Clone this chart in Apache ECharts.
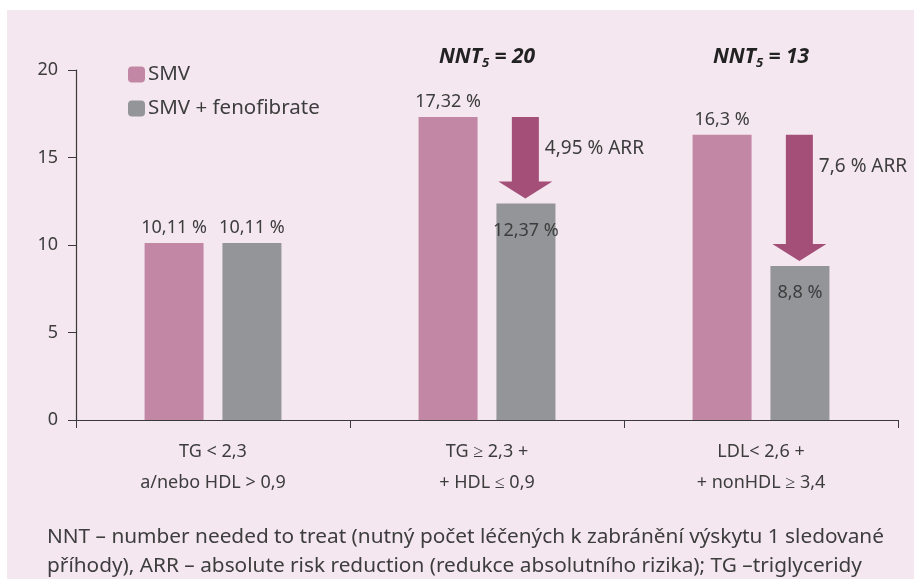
<!DOCTYPE html>
<html>
<head>
<meta charset="utf-8">
<script src="https://cdn.jsdelivr.net/npm/echarts@6/dist/echarts.min.js"></script>
<style>
  html, body { margin: 0; padding: 0; background: #ffffff; }
  #chart { position: absolute; left: 7px; top: 10px; width: 907px; height: 569px; background: #f4e7ef; }
</style>
</head>
<body>
<div id="chart"></div>
<script>
var categories = ['TG < 2,3\na/nebo HDL > 0,9', 'TG ≥ 2,3 +\n+ HDL ≤ 0,9', 'LDL< 2,6 +\n+ nonHDL ≥ 3,4']
var smv = [10.11, 17.32, 16.3]
var smvFeno = [10.11, 12.37, 8.8]
var nntLabels = ['', '20', '13']
// [category index, from value, to value, label]
var arrows = [[1, 17.32, 12.37, '4,95 % ARR'], [2, 16.3, 8.8, '7,6 % ARR']]
var yTicks = [0, 5, 10, 15, 20]
var footnote = ['NNT – number needed to treat (nutný počet léčených k zabránění výskytu 1 sledované',
  'příhody), ARR – absolute risk reduction (redukce absolutního rizika); TG –triglyceridy']

var font = 'Noto Sans'
var textColor = '#3d3d3d'
function pct (v) { return String(v).replace('.', ',') + ' %' }

var myChart = echarts.init(document.getElementById('chart'))
myChart.setOption({
  animation: false,
  textStyle: { fontFamily: font },
  grid: { left: 69, right: 16, top: 60, bottom: 159 },
  legend: {
    orient: 'vertical',
    left: 116,
    top: 49,
    itemWidth: 17,
    itemHeight: 16,
    itemGap: 13,
    textStyle: { fontSize: 20.5, color: textColor, fontFamily: font, padding: [0, 0, 0, -2] },
    data: ['SMV', 'SMV + fenofibrate']
  },
  xAxis: {
    type: 'category',
    data: categories,
    axisLine: { lineStyle: { color: '#3a3a3a', width: 1.2 } },
    axisTick: { show: true, length: 8, lineStyle: { color: '#3a3a3a' } },
    axisLabel: { fontSize: 18, color: textColor, lineHeight: 31, margin: 16, fontFamily: font }
  },
  yAxis: {
    type: 'value',
    min: yTicks[0],
    max: yTicks[yTicks.length - 1],
    interval: 5,
    splitLine: { show: false },
    axisLine: { show: true, lineStyle: { color: '#3a3a3a', width: 1.2 } },
    axisTick: { show: true, length: 8, lineStyle: { color: '#3a3a3a' } },
    axisLabel: { fontSize: 18, color: textColor, margin: 18, fontFamily: font }
  },
  series: [
    {
      name: 'SMV',
      type: 'bar',
      data: smv,
      barWidth: 59,
      barGap: '32%',
      itemStyle: { color: '#c287a5' },
      label: {
        show: true,
        position: 'top',
        distance: 6,
        fontSize: 18,
        color: textColor,
        formatter: function (p) { return pct(p.value) }
      }
    },
    {
      name: 'SMV + fenofibrate',
      type: 'bar',
      data: smvFeno.map(function (v, i) {
        return i === 0 ? v : {
          value: v,
          label: { position: 'insideTop', distance: 18 }
        }
      }),
      barWidth: 59,
      itemStyle: { color: '#939598' },
      label: {
        show: true,
        position: 'top',
        distance: 6,
        fontSize: 18,
        color: textColor,
        formatter: function (p) { return pct(p.value) }
      }
    },
    {
      type: 'custom',
      silent: true,
      z: 5,
      data: arrows,
      renderItem: function (params, api) {
        var band = api.size([1, 0])[0]
        var top = api.coord([api.value(0), api.value(1)])
        var bottom = api.coord([api.value(0), api.value(2)])
        var cx = top[0] + band * 0.14
        var y0 = top[1]
        var y1 = bottom[1] - 5
        var headH = 17
        var sw = 13.5
        var hw = 27
        return {
          type: 'group',
          children: [
            {
              type: 'polygon',
              shape: {
                points: [
                  [cx - sw, y0], [cx + sw, y0], [cx + sw, y1 - headH],
                  [cx + hw, y1 - headH], [cx, y1], [cx - hw, y1 - headH],
                  [cx - sw, y1 - headH]
                ]
              },
              style: { fill: '#a34f78' }
            },
            {
              type: 'text',
              x: cx + sw + 6,
              y: y0 + 32,
              style: {
                text: arrows[params.dataIndex][3],
                fontSize: 19,
                fontFamily: font,
                fill: textColor,
                verticalAlign: 'middle'
              }
            }
          ]
        }
      }
    },
    {
      type: 'custom',
      silent: true,
      data: nntLabels.map(function (v, i) { return [i, v] }),
      renderItem: function (params, api) {
        var v = nntLabels[params.dataIndex]
        if (!v) return null
        var p = api.coord([params.dataIndex, 0])
        return {
          type: 'text',
          x: p[0],
          y: 47,
          style: {
            text: '{a|NNT}{s|5}{a| = ' + v + '}',
            align: 'center',
            verticalAlign: 'middle',
            rich: {
              a: { fontSize: 21, fontWeight: 'bold', fontStyle: 'italic', fontFamily: font, fill: '#222' },
              s: { fontSize: 13, fontWeight: 'bold', fontStyle: 'italic', fontFamily: font, fill: '#222', padding: [13, 0, 0, 0] }
            }
          }
        }
      }
    }
  ],
  graphic: footnote.map(function (t, i) {
    return {
      type: 'text',
      left: 40,
      top: 517 + i * 29,
      style: { text: t, fontSize: 20.8, fontFamily: font, fill: textColor }
    }
  })
})
</script>
</body>
</html>
